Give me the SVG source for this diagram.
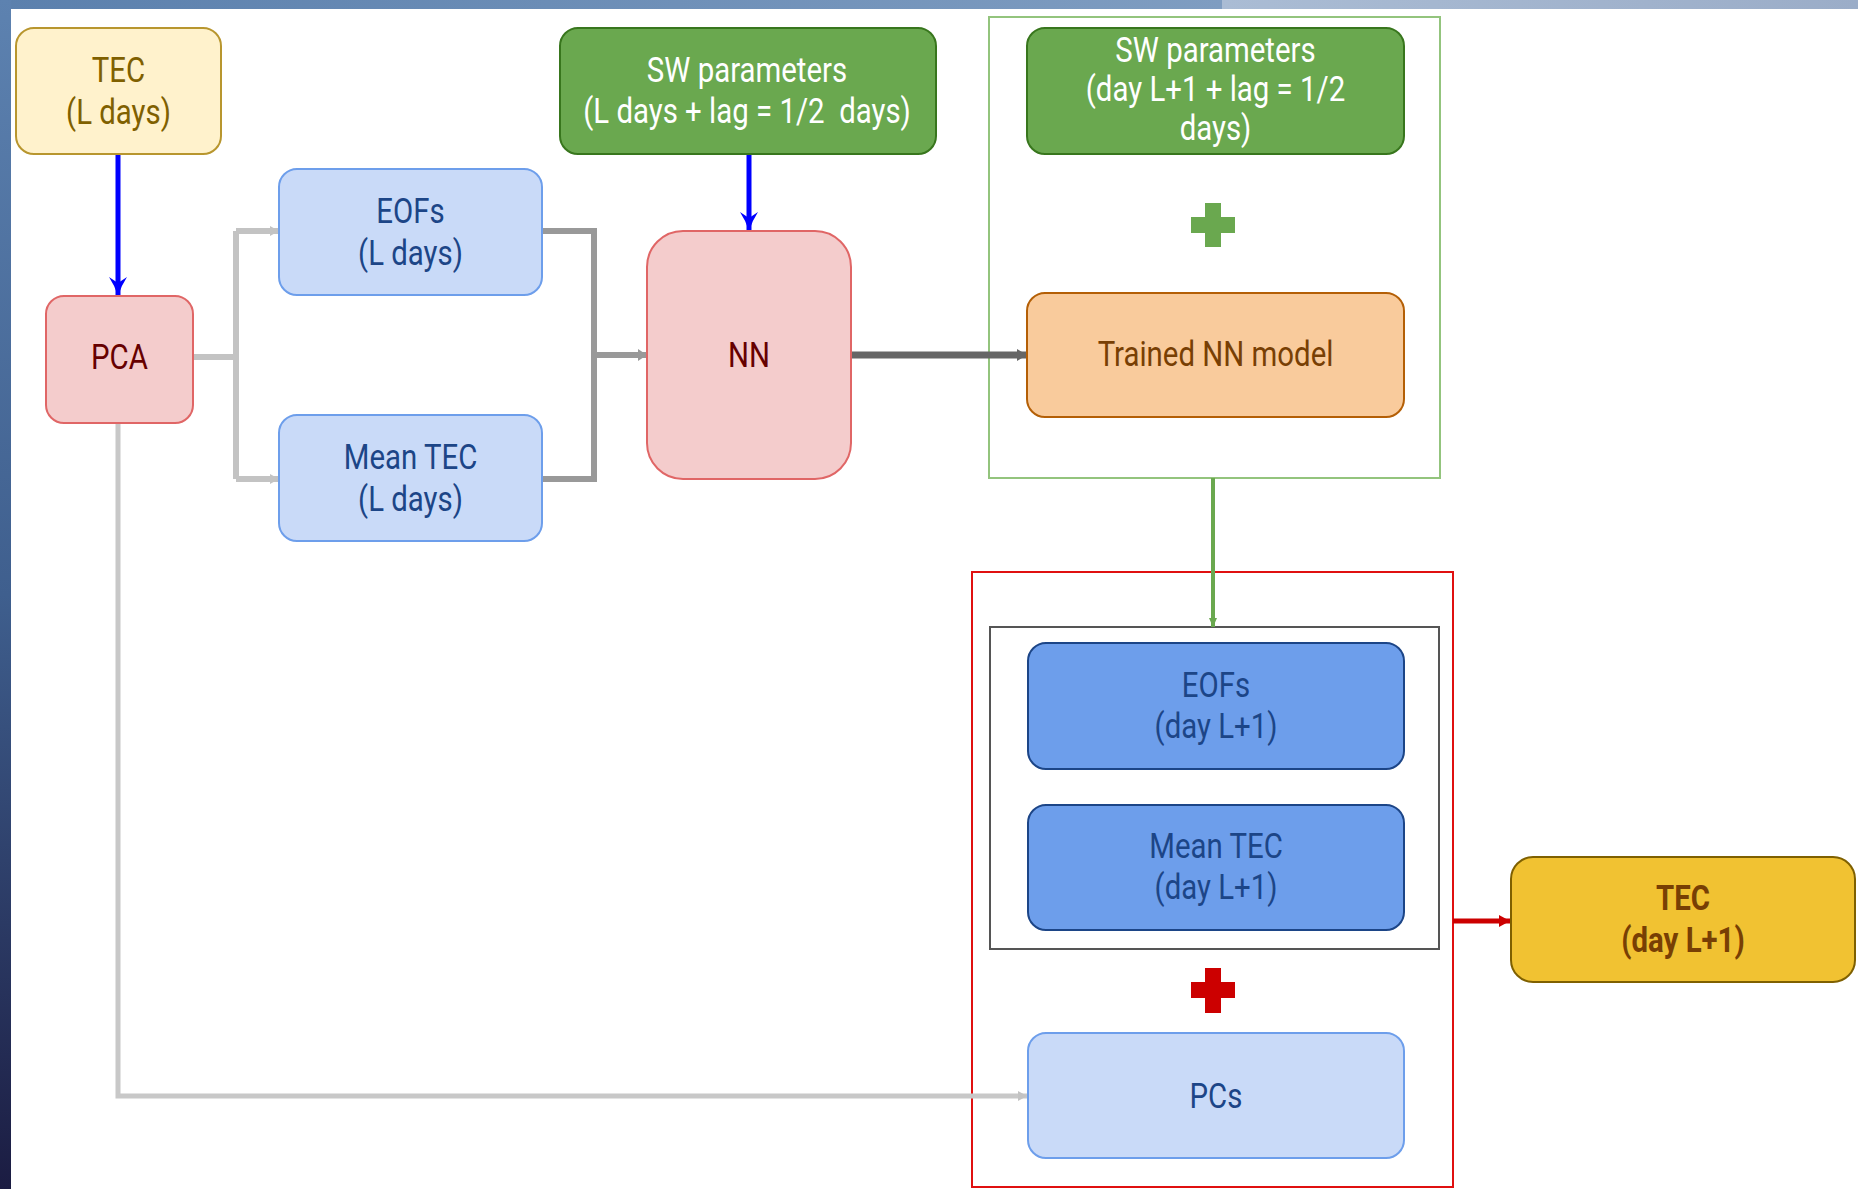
<svg xmlns="http://www.w3.org/2000/svg" width="1858" height="1189" viewBox="0 0 1858 1189">
<defs>
<linearGradient id="gl" x1="0" y1="0" x2="0" y2="1"><stop offset="0" stop-color="#5d82b0"/><stop offset="0.5" stop-color="#3f5f8e"/><stop offset="1" stop-color="#1b1c42"/></linearGradient>
<linearGradient id="gt" x1="0" y1="0" x2="1" y2="0"><stop offset="0" stop-color="#5b80ad"/><stop offset="1" stop-color="#7f9dc1"/></linearGradient>
<linearGradient id="gt2" x1="0" y1="0" x2="1" y2="0"><stop offset="0" stop-color="#aabcd4"/><stop offset="1" stop-color="#9badc8"/></linearGradient>
<marker id="mBlue" markerUnits="userSpaceOnUse" viewBox="-20 -10 21 20" refX="0" refY="0" markerWidth="21" markerHeight="20" orient="auto"><path d="M0,0 Q-10,-3 -19,-9 L-13,0 L-19,9 Q-10,3 0,0 Z" fill="#0000ff"/></marker>
<marker id="mLight" markerUnits="userSpaceOnUse" viewBox="-10 -6 11 12" refX="0" refY="0" markerWidth="11" markerHeight="12" orient="auto"><path d="M0,0 L-9,-5 L-9,5 Z" fill="#c3c3c3"/></marker>
<marker id="mMid" markerUnits="userSpaceOnUse" viewBox="-10 -7 11 14" refX="0" refY="0" markerWidth="11" markerHeight="14" orient="auto"><path d="M0,0 L-9,-6 L-9,6 Z" fill="#999999"/></marker>
<marker id="mDark" markerUnits="userSpaceOnUse" viewBox="-11 -7 12 14" refX="0" refY="0" markerWidth="12" markerHeight="14" orient="auto"><path d="M0,0 L-10,-6 L-10,6 Z" fill="#666666"/></marker>
<marker id="mGreen" markerUnits="userSpaceOnUse" viewBox="-10 -6 11 12" refX="0" refY="0" markerWidth="11" markerHeight="12" orient="auto"><path d="M0,0 L-9,-4 L-9,4 Z" fill="#6aa84f"/></marker>
<marker id="mRed" markerUnits="userSpaceOnUse" viewBox="-12 -7 13 14" refX="0" refY="0" markerWidth="13" markerHeight="14" orient="auto"><path d="M0,0 L-11,-6 L-11,6 Z" fill="#cc0000"/></marker>
</defs>
<style>
.t{font-family:Roboto,"Liberation Sans",sans-serif;font-size:35px;text-anchor:middle}
.box{stroke-width:2}
.yel{fill:#fff2cc;stroke:#b8962e}
.red{fill:#f4cccc;stroke:#e06666}
.lb{fill:#c9daf8;stroke:#6d9eeb}
.gr{fill:#6aa84f;stroke:#38761d}
.or{fill:#f9cb9c;stroke:#b45f06}
.db{fill:#6d9eeb;stroke:#1c4587}
.gold{fill:#f1c232;stroke:#7f6000}
.c{fill:none}
.line{fill:none}
</style>
<rect x="0" y="0" width="1858" height="1189" fill="#ffffff"/>
<rect x="0" y="0" width="1222" height="9" fill="url(#gt)"/>
<rect x="1222" y="0" width="636" height="9" fill="url(#gt2)"/>
<rect x="0" y="0" width="11" height="1189" fill="url(#gl)"/>

<g id="containers">
<rect x="989" y="17" width="451" height="461" fill="none" stroke="#93c47d" stroke-width="2"/>
<rect x="972" y="572" width="481" height="615" fill="none" stroke="#e01010" stroke-width="2"/>
<rect x="990" y="627" width="449" height="322" fill="none" stroke="#555555" stroke-width="2"/>
</g>

<g id="connectors">
<path d="M118,154 V296" stroke="#0000ff" stroke-width="5" fill="none" marker-end="url(#mBlue)"/>
<path d="M749,154 V231" stroke="#0000ff" stroke-width="5" fill="none" marker-end="url(#mBlue)"/>
<path d="M193,357 H236 M236,231 V479" stroke="#c3c3c3" stroke-width="6" fill="none"/>
<path d="M236,231 H279" stroke="#c3c3c3" stroke-width="6" fill="none" marker-end="url(#mLight)"/>
<path d="M236,479 H279" stroke="#c3c3c3" stroke-width="6" fill="none" marker-end="url(#mLight)"/>
<path d="M542,231 H594 V479 H542" stroke="#999999" stroke-width="6" fill="none"/>
<path d="M594,355 H647" stroke="#999999" stroke-width="6" fill="none" marker-end="url(#mMid)"/>
<path d="M851,355 H1027" stroke="#666666" stroke-width="7" fill="none" marker-end="url(#mDark)"/>
<path d="M1213,478 V627" stroke="#6aa84f" stroke-width="4" fill="none" marker-end="url(#mGreen)"/>
<path d="M118,423 V1096 H1027" stroke="#c8c8c8" stroke-width="5" fill="none" marker-end="url(#mLight)"/>
<path d="M1453,921 H1510" stroke="#cc0000" stroke-width="5" fill="none" marker-end="url(#mRed)"/>
</g>

<g id="tec-l">
<rect class="box yel" x="16" y="28" width="205" height="126" rx="18"/>
<text class="t" fill="#7f6000" transform="matrix(0.84,0,0,1,118.5,0)"><tspan x="0" y="82">TEC</tspan><tspan x="0" y="124">(L days)</tspan></text>
</g>
<g id="pca">
<rect class="box red" x="46" y="296" width="147" height="127" rx="18"/>
<text class="t" fill="#660000" transform="matrix(0.84,0,0,1,119.5,0)" x="0" y="369">PCA</text>
</g>
<g id="eofs-l">
<rect class="box lb" x="279" y="169" width="263" height="126" rx="18"/>
<text class="t" fill="#1c4587" transform="matrix(0.84,0,0,1,410.5,0)"><tspan x="0" y="223">EOFs</tspan><tspan x="0" y="265">(L days)</tspan></text>
</g>
<g id="mean-l">
<rect class="box lb" x="279" y="415" width="263" height="126" rx="18"/>
<text class="t" fill="#1c4587" transform="matrix(0.84,0,0,1,410.5,0)"><tspan x="0" y="469">Mean TEC</tspan><tspan x="0" y="511">(L days)</tspan></text>
</g>
<g id="sw-l">
<rect class="box gr" x="560" y="28" width="376" height="126" rx="18"/>
<text class="t" fill="#ffffff" xml:space="preserve" transform="matrix(0.84,0,0,1,747,0)"><tspan x="0" y="82">SW parameters</tspan><tspan x="0" y="123">(L days + lag = 1/2  days)</tspan></text>
</g>
<g id="nn">
<rect class="box red" x="647" y="231" width="204" height="248" rx="36"/>
<text class="t" fill="#660000" transform="matrix(0.84,0,0,1,749,0)" x="0" y="367">NN</text>
</g>
<g id="sw-r">
<rect class="box gr" x="1027" y="28" width="377" height="126" rx="18"/>
<text class="t" fill="#ffffff" transform="matrix(0.84,0,0,1,1215.5,0)"><tspan x="0" y="62">SW parameters</tspan><tspan x="0" y="101">(day L+1 + lag = 1/2</tspan><tspan x="0" y="140">days)</tspan></text>
</g>
<g id="plus-green">
<path d="M1205,203 H1221 V217 H1235 V233 H1221 V247 H1205 V233 H1191 V217 H1205 Z" fill="#6aa84f"/>
</g>
<g id="trained">
<rect class="box or" x="1027" y="293" width="377" height="124" rx="18"/>
<text class="t" fill="#783f04" transform="matrix(0.84,0,0,1,1215.5,0)" x="0" y="366">Trained NN model</text>
</g>
<g id="eofs-d">
<rect class="box db" x="1028" y="643" width="376" height="126" rx="18"/>
<text class="t" fill="#1c4587" transform="matrix(0.84,0,0,1,1216,0)"><tspan x="0" y="697">EOFs</tspan><tspan x="0" y="738">(day L+1)</tspan></text>
</g>
<g id="mean-d">
<rect class="box db" x="1028" y="805" width="376" height="125" rx="18"/>
<text class="t" fill="#1c4587" transform="matrix(0.84,0,0,1,1216,0)"><tspan x="0" y="858">Mean TEC</tspan><tspan x="0" y="899">(day L+1)</tspan></text>
</g>
<g id="plus-red">
<path d="M1205,968 H1221 V982 H1235 V998 H1221 V1013 H1205 V998 H1191 V982 H1205 Z" fill="#cc0000"/>
</g>
<g id="pcs">
<rect class="box lb" x="1028" y="1033" width="376" height="125" rx="18"/>
<text class="t" fill="#1c4587" transform="matrix(0.84,0,0,1,1216,0)" x="0" y="1108">PCs</text>
</g>
<g id="tec-d">
<rect class="box gold" x="1511" y="857" width="344" height="125" rx="22"/>
<text class="t" fill="#783f04" font-weight="bold" transform="matrix(0.84,0,0,1,1683,0)"><tspan x="0" y="910">TEC</tspan><tspan x="0" y="952">(day L+1)</tspan></text>
</g>
</svg>
